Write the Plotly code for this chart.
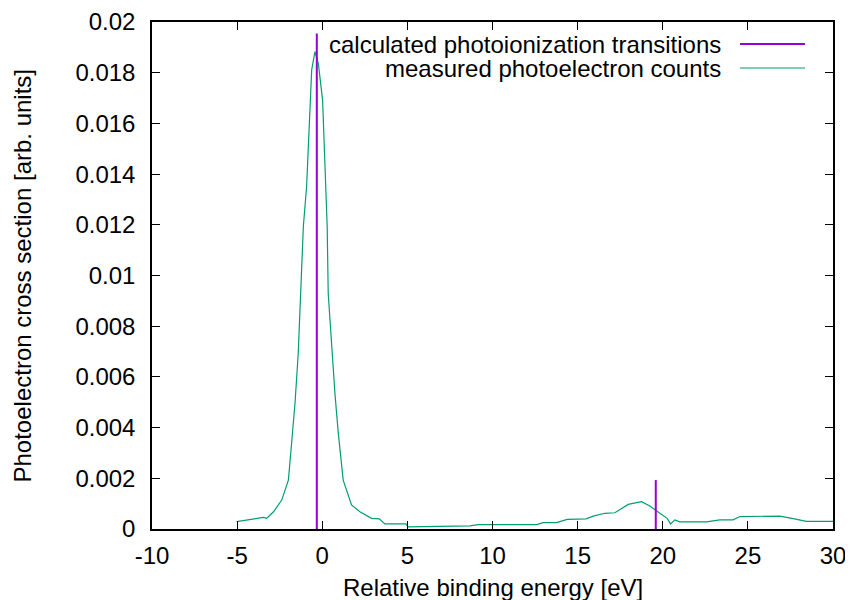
import plotly.graph_objects as go

# Measured photoelectron counts
energy = [-5.03, -4.25, -3.46, -3.27, -2.86, -2.38, -1.99, -1.80, -1.60, -1.41,
          -1.27, -1.11, -0.92, -0.76, -0.62, -0.43, -0.23, 0.02, 0.16, 0.29,
          0.35, 0.55, 0.75, 0.94, 1.23, 1.72, 2.21, 2.9, 3.35, 3.68,
          4.91, 5.05, 8.67, 9.16, 12.59, 12.98, 13.76, 14.39, 15.5, 15.91,
          16.6, 17.19, 17.97, 18.75, 19.24, 19.83, 20.26, 20.46, 20.71, 21.0,
          22.57, 23.35, 24.13, 24.53, 26.88, 27.66, 28.44, 30.0]
counts = [0.00029, 0.00036, 0.00046, 0.00042, 0.00068, 0.00114, 0.00193, 0.00338, 0.00496, 0.00693,
          0.00956, 0.01193, 0.0135, 0.01613, 0.01811, 0.01883, 0.01837, 0.01692, 0.01416, 0.01193,
          0.0093, 0.00719, 0.00530, 0.0038, 0.00193, 0.00095, 0.00068, 0.00042, 0.0004, 0.0002,
          0.0002, 0.00008, 0.00012, 0.00017, 0.00017, 0.00025, 0.00025, 0.00038, 0.0004, 0.00051,
          0.00062, 0.00064, 0.00097, 0.00108, 0.00091, 0.00062, 0.00042, 0.0002, 0.00036, 0.00028,
          0.00028, 0.00036, 0.00036, 0.00049, 0.00051, 0.00041, 0.0003, 0.0003]

# Calculated photoionization transitions (sticks)
trans_energy = [-0.32, 19.59]
trans_strength = [0.01955, 0.00193]

x_ticks = [-10, -5, 0, 5, 10, 15, 20, 25, 30]
x_ticktext = ["-10", "-5", "0", "5", "10", "15", "20", "25", "30"]
y_ticks = [0, 0.002, 0.004, 0.006, 0.008, 0.01, 0.012, 0.014, 0.016, 0.018, 0.02]
y_ticktext = ["0", "0.002", "0.004", "0.006", "0.008", "0.01", "0.012", "0.014", "0.016", "0.018", "0.02"]

legend_labels = ["calculated photoionization transitions", "measured photoelectron counts"]

PURPLE = "#9400d3"
GREEN = "#009e73"
FONT = "Liberation Sans, Arial, sans-serif"
FS = 24

stick_x, stick_y = [], []
for e, s in zip(trans_energy, trans_strength):
    stick_x += [e, e, None]
    stick_y += [0, s, None]

fig = go.Figure()
fig.add_trace(go.Scatter(x=energy, y=counts, mode="lines",
                         line=dict(color=GREEN, width=1.2), showlegend=False))
fig.add_trace(go.Scatter(x=stick_x, y=stick_y, mode="lines",
                         line=dict(color=PURPLE, width=2), showlegend=False))

W, H = 853, 600
OFF = 8  # page body margin offset
# desired screen plot box: x 152..833, y 22..529
L, T = 152 - OFF, 22 - OFF
R, B = W - (833 - OFF), H - (529 - OFF)
pw, ph = W - L - R, H - T - B

axis_common = dict(showgrid=False, zeroline=False, showline=True, linecolor="black",
                   linewidth=1.5, mirror="allticks", ticks="inside", ticklen=8,
                   tickcolor="black", tickwidth=1, automargin=False,
                   tickfont=dict(family=FONT, size=FS, color="black"))

fig.update_xaxes(range=[-10, 30], tickvals=x_ticks, ticktext=x_ticktext,
                 ticklabelstandoff=4, **axis_common)
fig.update_yaxes(range=[0, 0.02], tickvals=y_ticks, ticktext=y_ticktext,
                 ticklabelstandoff=10, **axis_common)

def px_x(px):
    return (px - OFF - L) / pw

def px_y(py):
    return (H - B - (py - OFF)) / ph

annotations = [
    dict(text="Relative binding energy [eV]", x=0.5, y=px_y(587), xref="paper", yref="paper",
         showarrow=False, font=dict(family=FONT, size=FS, color="black"),
         xanchor="center", yanchor="middle"),
    dict(text="Photoelectron cross section [arb. units]", x=px_x(22), y=0.5, xref="paper",
         yref="paper", showarrow=False, textangle=-90,
         font=dict(family=FONT, size=FS, color="black"), xanchor="center", yanchor="middle"),
]
shapes = []
legend_colors = [PURPLE, GREEN]
legend_rows = [44, 68]
for lab, col, ry in zip(legend_labels, legend_colors, legend_rows):
    annotations.append(dict(text=lab, x=px_x(722), y=px_y(ry), xref="paper", yref="paper",
                            showarrow=False, xanchor="right", yanchor="middle", borderpad=0,
                            font=dict(family=FONT, size=FS, color="black")))
    shapes.append(dict(type="line", xref="paper", yref="paper",
                       x0=px_x(740), x1=px_x(805), y0=px_y(ry), y1=px_y(ry),
                       line=dict(color=col, width=2 if col == PURPLE else 1.2)))

fig.update_layout(width=W, height=H, margin=dict(l=L, r=R, t=T, b=B),
                  paper_bgcolor="white", plot_bgcolor="white",
                  annotations=annotations, shapes=shapes, showlegend=False,
                  font=dict(family=FONT, size=FS, color="black"))

fig.write_html("out.html")
